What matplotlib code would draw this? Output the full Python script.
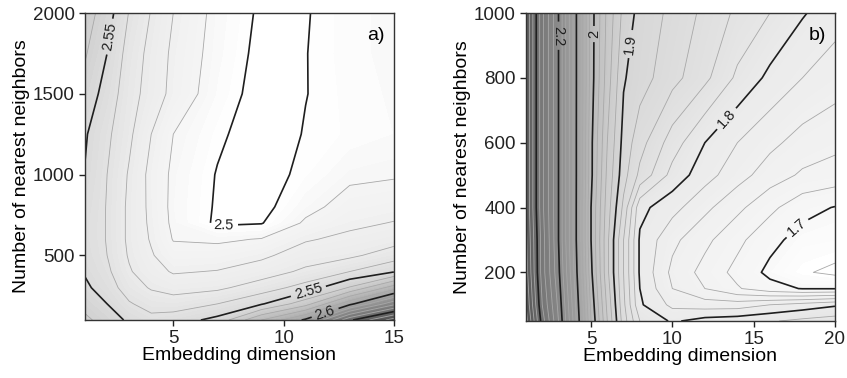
import matplotlib.pyplot as plt
import numpy as np
from matplotlib.colors import LinearSegmentedColormap, Normalize

plt.rcParams["font.family"] = ["Liberation Sans", "DejaVu Sans"]

# ---- panel a) ----
dim_a = [1, 2, 3, 4, 5, 7, 9, 11, 13, 15]
nn_a = [100, 200, 300, 400, 500, 600, 700, 800, 1000, 1250, 1500, 1750, 2000]
val_a = [
    [2.562, 2.556, 2.548, 2.543, 2.545, 2.553, 2.580, 2.602, 2.648, 2.675],
    [2.557, 2.550, 2.541, 2.536, 2.535, 2.540, 2.549, 2.566, 2.597, 2.627],
    [2.552, 2.545, 2.535, 2.529, 2.526, 2.528, 2.535, 2.544, 2.561, 2.585],
    [2.549, 2.542, 2.531, 2.524, 2.519, 2.5205, 2.525, 2.532, 2.540, 2.549],
    [2.547, 2.540, 2.529, 2.521, 2.5135, 2.514, 2.518, 2.525, 2.528, 2.535],
    [2.546, 2.5395, 2.528, 2.519, 2.5095, 2.5085, 2.5105, 2.519, 2.5225, 2.526],
    [2.546, 2.5395, 2.528, 2.518, 2.508, 2.4985, 2.4995, 2.5115, 2.5177, 2.5205],
    [2.547, 2.5395, 2.528, 2.5175, 2.5075, 2.499, 2.497, 2.507, 2.514, 2.516],
    [2.5495, 2.540, 2.529, 2.517, 2.508, 2.4995, 2.4965, 2.502, 2.508, 2.509],
    [2.551, 2.542, 2.532, 2.520, 2.510, 2.5015, 2.4955, 2.5005, 2.503, 2.505],
    [2.556, 2.546, 2.534, 2.526, 2.517, 2.5045, 2.4965, 2.4998, 2.5035, 2.5055],
    [2.561, 2.550, 2.536, 2.527, 2.518, 2.506, 2.4975, 2.4998, 2.504, 2.506],
    [2.565, 2.5545, 2.5395, 2.5295, 2.520, 2.5068, 2.4985, 2.4995, 2.504, 2.506],
]
major_a = [2.5, 2.55, 2.6, 2.65]

# ---- panel b) ----
dim_b = [1, 2, 3, 4, 5, 6, 7, 8, 10, 12, 14, 16, 18, 20]
nn_b = [50, 100, 150, 200, 300, 400, 500, 600, 800, 1000]
val_b = [
    [2.39, 2.29, 2.22, 2.13, 2.02, 1.94, 1.87, 1.82, 1.797, 1.808, 1.812, 1.818, 1.825, 1.83],
    [2.38, 2.28, 2.215, 2.125, 2.015, 1.935, 1.865, 1.803, 1.775, 1.77, 1.77, 1.78, 1.788, 1.797],
    [2.375, 2.275, 2.21, 2.12, 2.01, 1.93, 1.862, 1.80, 1.76, 1.74, 1.722, 1.707, 1.699, 1.699],
    [2.37, 2.27, 2.205, 2.115, 2.005, 1.925, 1.86, 1.797, 1.755, 1.733, 1.714, 1.695, 1.682, 1.676],
    [2.365, 2.27, 2.20, 2.11, 2.00, 1.925, 1.86, 1.797, 1.765, 1.745, 1.725, 1.706, 1.692, 1.69],
    [2.36, 2.265, 2.20, 2.11, 2.00, 1.93, 1.875, 1.806, 1.787, 1.765, 1.745, 1.725, 1.707, 1.699],
    [2.36, 2.265, 2.20, 2.11, 2.005, 1.935, 1.888, 1.855, 1.813, 1.788, 1.768, 1.75, 1.737, 1.732],
    [2.36, 2.265, 2.20, 2.11, 2.005, 1.94, 1.893, 1.868, 1.83, 1.80, 1.78, 1.765, 1.752, 1.745],
    [2.36, 2.265, 2.20, 2.11, 2.01, 1.95, 1.902, 1.889, 1.867, 1.845, 1.816, 1.795, 1.78, 1.77],
    [2.36, 2.265, 2.20, 2.11, 2.01, 1.955, 1.914, 1.893, 1.875, 1.855, 1.836, 1.82, 1.802, 1.788],
]
major_b = [1.7, 1.8, 1.9, 2.0, 2.1, 2.2, 2.3]


def gray_cmap(anchors):
    vals = [a[0] for a in anchors]
    lo, hi = vals[0], vals[-1]
    cols = [((v - lo) / (hi - lo), (g, g, g)) for v, g in anchors]
    return LinearSegmentedColormap.from_list("g", cols), Normalize(lo, hi)


def draw_panel(ax, x, y, z, step_fill, step_line, major, anchors, label_pos, tag):
    z = np.array(z)
    cmap, norm = gray_cmap(anchors)
    lo, hi = anchors[0][0], anchors[-1][0]
    fill_levels = np.round(np.arange(lo, hi + step_fill / 2, step_fill), 4)
    ax.contourf(x, y, z, levels=fill_levels, cmap=cmap, norm=norm)
    line_levels = np.round(np.arange(lo, hi + step_line / 2, step_line), 3)
    minor = [v for v in line_levels if not np.any(np.isclose(v, major))]
    ax.contour(x, y, z, levels=minor, colors="#a8a8a8", linewidths=0.6)
    cs = ax.contour(x, y, z, levels=major, colors="#1e1e1e", linewidths=1.2)
    ax.clabel(cs, fmt="%g", fontsize=10.5, inline=True, inline_spacing=4, manual=label_pos)
    ax.text(0.97, 0.955, tag, transform=ax.transAxes, ha="right", va="top", fontsize=14)
    ax.tick_params(direction="out", length=4, width=1, labelsize=13.5, colors="#222222")
    for s in ax.spines.values():
        s.set_color("#333333")
        s.set_linewidth(1.0)
    ax.set_xlabel("Embedding dimension", fontsize=14, labelpad=0)
    ax.set_ylabel("Number of nearest neighbors", fontsize=14, labelpad=2)


fig = plt.figure(figsize=(8.47, 3.78), dpi=100)
ax_a = fig.add_axes([0.1004, 0.1534, 0.3646, 0.8122])
ax_b = fig.add_axes([0.6210, 0.1508, 0.3648, 0.8148])

draw_panel(
    ax_a, dim_a, nn_a, val_a, 0.0025, 0.01, major_a,
    [(2.49, 1.0), (2.50, 1.0), (2.51, 0.96), (2.53, 0.92), (2.55, 0.86),
     (2.57, 0.78), (2.60, 0.65), (2.65, 0.42), (2.70, 0.2)],
    [(2.3, 1850), (7.3, 673), (11.1, 290), (11.8, 180)], "a)",
)
ax_a.set_xlim(1, 15)
ax_a.set_ylim(100, 2000)
ax_a.set_xticks([5, 10, 15])
ax_a.set_yticks([500, 1000, 1500, 2000])

draw_panel(
    ax_b, dim_b, nn_b, val_b, 0.005, 0.02, major_b,
    [(1.66, 1.0), (1.68, 1.0), (1.70, 0.97), (1.80, 0.92), (1.90, 0.84),
     (2.0, 0.74), (2.1, 0.64), (2.2, 0.55), (2.3, 0.44), (2.42, 0.28)],
    [(3.05, 930), (5.3, 935), (7.3, 905), (13.2, 680), (17.3, 357)], "b)",
)
ax_b.set_xlim(1, 20)
ax_b.set_ylim(50, 1000)
ax_b.set_xticks([5, 10, 15, 20])
ax_b.set_yticks([200, 400, 600, 800, 1000])

fig.savefig("out.png", dpi=100)
